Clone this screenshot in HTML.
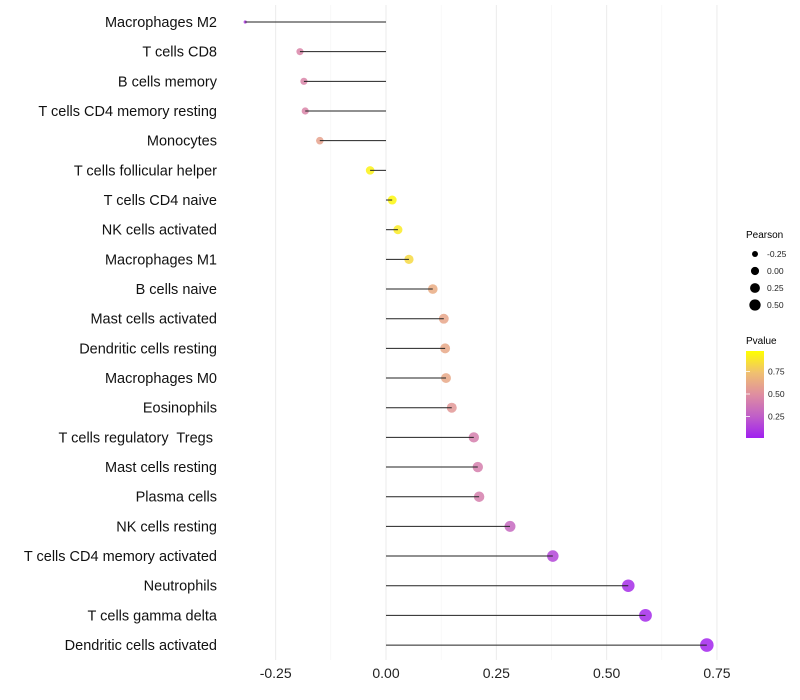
<!DOCTYPE html>
<html><head><meta charset="utf-8"><style>
body{margin:0;background:#fff;}
svg{display:block;font-family:"Liberation Sans",sans-serif;}
</style></head><body>
<svg id="chart" width="800" height="700">
<defs>
<linearGradient id="pg" x1="0" y1="1" x2="0" y2="0">
<stop offset="0" stop-color="#A020F0"/><stop offset="0.25" stop-color="#C05FC8"/>
<stop offset="0.5" stop-color="#DF8EA0"/><stop offset="0.75" stop-color="#F0C070"/>
<stop offset="1" stop-color="#FFFF00"/></linearGradient>
</defs>
<g id="grid"></g><g id="marks"></g><g id="ylabels"></g><g id="xlabels"></g>
<g>
<text x="746" y="238" font-size="10">Pearson</text>
<g id="sizeleg"></g>
<text x="746" y="344" font-size="10">Pvalue</text>
<rect x="746" y="351" width="18" height="87" fill="url(#pg)"/>
<g id="colleg"></g>
</g>
</svg>
<script>
const categories=["Macrophages M2","T cells CD8","B cells memory","T cells CD4 memory resting","Monocytes","T cells follicular helper","T cells CD4 naive","NK cells activated","Macrophages M1","B cells naive","Mast cells activated","Dendritic cells resting","Macrophages M0","Eosinophils","T cells regulatory\u00a0 Tregs\u00a0","Mast cells resting","Plasma cells","NK cells resting","T cells CD4 memory activated","Neutrophils","T cells gamma delta","Dendritic cells activated"];
const pearson=[-0.319,-0.195,-0.186,-0.183,-0.15,-0.036,0.014,0.027,0.052,0.106,0.131,0.134,0.136,0.149,0.199,0.208,0.211,0.281,0.378,0.549,0.588,0.727];
const pvalue=[0.1,0.45,0.45,0.45,0.6,0.95,0.97,0.92,0.85,0.65,0.62,0.63,0.63,0.55,0.42,0.42,0.42,0.3,0.15,0.05,0.04,0.02];
const xTicks=[-0.25,0,0.25,0.5,0.75];
const xTickLabels=["-0.25","0.00","0.25","0.50","0.75"];
const sizeLegend=[-0.25,0,0.25,0.5];
const colorLegend=[0.75,0.5,0.25];
const NS="http://www.w3.org/2000/svg";
const X=v=>386+v*441.3;
const Y=i=>22+i*29.67;
const pmin=Math.min(...pearson),pmax=Math.max(...pearson);
const R=v=>{const t=Math.max(0,(v-pmin)/(pmax-pmin));return t<0.02?1.6:Math.sqrt(8+38*t);};
const stops=[[0,[160,32,240]],[0.25,[192,95,200]],[0.5,[223,142,160]],[0.75,[240,192,112]],[1,[255,255,0]]];
function col(p){for(let k=1;k<stops.length;k++){if(p<=stops[k][0]){const a=stops[k-1],b=stops[k],t=(p-a[0])/(b[0]-a[0]);return "rgb("+a[1].map((c,j)=>Math.round(c+(b[1][j]-c)*t)).join(",")+")";}}return "rgb(255,255,0)";}
function mk(tag,at,par){const e=document.createElementNS(NS,tag);for(const k in at)e.setAttribute(k,at[k]);document.getElementById(par).appendChild(e);return e;}
for(let v=-0.25;v<=0.751;v+=0.125){const major=Math.abs((v*4)-Math.round(v*4))<1e-6;
const g=mk("line",{x1:X(v),x2:X(v),y1:5,y2:660,stroke:major?"#ebebeb":"#f3f3f3","stroke-width":major?1:0.6},"grid");

}
xTicks.forEach((v,i)=>{const t=mk("text",{x:X(v),y:678,"font-size":14,"text-anchor":"middle",fill:"#222"},"xlabels");t.textContent=xTickLabels[i];

});
categories.forEach((c,i)=>{
const t=mk("text",{x:217,y:Y(i)+5,"font-size":14.5,"text-anchor":"end",fill:"#111"},"ylabels");t.textContent=c;


const p=mk("circle",{cx:X(pearson[i]),cy:Y(i),r:R(pearson[i]),fill:col(pvalue[i]),"fill-opacity":0.85},"marks");


const l=mk("line",{x1:X(0),x2:X(pearson[i]),y1:Y(i),y2:Y(i),stroke:"#222","stroke-width":1},"marks");


});
sizeLegend.forEach((v,i)=>{const y=254+i*17;
const c=mk("circle",{cx:755,cy:y,r:R(v)*0.92,fill:"#000"},"sizeleg");


const t=mk("text",{x:767,y:y+3,"font-size":8.5,fill:"#222"},"sizeleg");t.textContent=v.toFixed(2);

});
colorLegend.forEach(v=>{const y=437-(v-0.02)/0.96*86;
const tk=mk("line",{x1:746,x2:750,y1:y,y2:y,stroke:"#fff","stroke-width":0.8},"colleg");


const t=mk("text",{x:768,y:y+3,"font-size":8.5,fill:"#222"},"colleg");t.textContent=v.toFixed(2);

});
</script>
</body></html>
